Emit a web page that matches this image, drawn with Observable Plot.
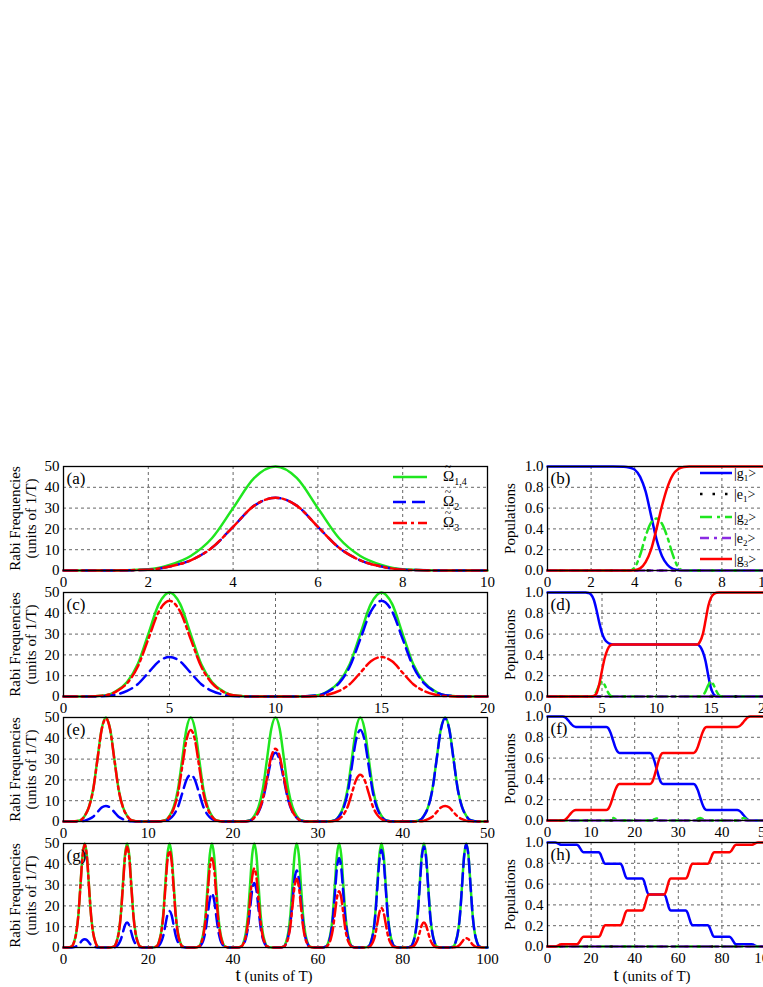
<!DOCTYPE html>
<html><head><meta charset="utf-8">
<script src="https://cdn.jsdelivr.net/npm/d3@7"></script>
<script src="https://cdn.jsdelivr.net/npm/@observablehq/plot@0.6"></script>
<style>
html,body{margin:0;padding:0;background:#fff;overflow:hidden;}
#fig{position:relative;width:763px;height:987px;overflow:hidden;background:#fff;}
</style></head><body><div id="fig"></div>
<script>
// ---------------- DATA ----------------
// Panel (a): Rabi frequencies, t in units of T
const tA = [0,1,2,2.5,3,3.5,4,4.5,5,5.5,6,6.5,7,7.5,8,9,10];
const om14A = [0,0,0.6,2.7,7,15.5,30,44.5,50,44.5,30,15.5,7,2.7,0.6,0,0];
const om2A  = [0,0,0.4,1.9,4.9,10.9,21,31.2,35,31.2,21,10.9,4.9,1.9,0.4,0,0];
const om3A  = [0,0,0.4,1.9,4.9,10.9,21,31.2,35,31.2,21,10.9,4.9,1.9,0.4,0,0];

// Panel (c)
const tC = [0,
 1,2,2.5,3,3.5,4,4.5,5,5.5,6,6.5,7,7.5,8,9,
 11,12,12.5,13,13.5,14,14.5,15,15.5,16,16.5,17,17.5,18,19,
 20];
const om14C = [0,
 0,0.6,2.7,7,15.5,30,44.5,50,44.5,30,15.5,7,2.7,0.6,0,
 0,0.6,2.7,7,15.5,30,44.5,50,44.5,30,15.5,7,2.7,0.6,0,
 0];
const om2C = [0,
 0,0.2,1,2.7,5.9,11.4,16.9,19,16.9,11.4,5.9,2.7,1,0.2,0,
 0,0.6,2.5,6.4,14.3,27.6,40.9,46,40.9,27.6,14.3,6.4,2.5,0.6,0,
 0];
const om3C = [0,
 0,0.6,2.5,6.4,14.3,27.6,40.9,46,40.9,27.6,14.3,6.4,2.5,0.6,0,
 0,0.2,1,2.7,5.9,11.4,16.9,19,16.9,11.4,5.9,2.7,1,0.2,0,
 0];

// Panel (e)
const tE = [0,
 1,2,2.5,3,3.5,4,4.5,5,5.5,6,6.5,7,7.5,8,9,
 11,12,12.5,13,13.5,14,14.5,15,15.5,16,16.5,17,17.5,18,19,
 21,22,22.5,23,23.5,24,24.5,25,25.5,26,26.5,27,27.5,28,29,
 31,32,32.5,33,33.5,34,34.5,35,35.5,36,36.5,37,37.5,38,39,
 41,42,42.5,43,43.5,44,44.5,45,45.5,46,46.5,47,47.5,48,49,
 50];
const om14E = [0,
 0,0.6,2.7,7,15.5,30,44.5,50,44.5,30,15.5,7,2.7,0.6,0,
 0,0.6,2.7,7,15.5,30,44.5,50,44.5,30,15.5,7,2.7,0.6,0,
 0,0.6,2.7,7,15.5,30,44.5,50,44.5,30,15.5,7,2.7,0.6,0,
 0,0.6,2.7,7,15.5,30,44.5,50,44.5,30,15.5,7,2.7,0.6,0,
 0,0.6,2.7,7,15.5,30,44.5,50,44.5,30,15.5,7,2.7,0.6,0,
 0];
const om2E = [0,
 0,0.1,0.4,1.1,2.3,4.5,6.7,7.5,6.7,4.5,2.3,1.1,0.4,0.1,0,
 0,0.3,1.2,3.2,7,13.5,20,22.5,20,13.5,7,3.2,1.2,0.3,0,
 0,0.4,1.8,4.6,10.2,19.8,29.4,33,29.4,19.8,10.2,4.6,1.8,0.4,0,
 0,0.5,2.4,6.2,13.6,26.4,39.2,44,39.2,26.4,13.6,6.2,2.4,0.5,0,
 0,0.6,2.7,6.9,15.3,29.7,44.1,49.5,44.1,29.7,15.3,6.9,2.7,0.6,0,
 0];
const om3E = [0,
 0,0.6,2.7,6.9,15.3,29.7,44.1,49.5,44.1,29.7,15.3,6.9,2.7,0.6,0,
 0,0.5,2.4,6.2,13.6,26.4,39.2,44,39.2,26.4,13.6,6.2,2.4,0.5,0,
 0,0.4,1.9,4.9,10.9,21,31.2,35,31.2,21,10.9,4.9,1.9,0.4,0,
 0,0.3,1.2,3.2,7,13.5,20,22.5,20,13.5,7,3.2,1.2,0.3,0,
 0,0.1,0.4,1.1,2.3,4.5,6.7,7.5,6.7,4.5,2.3,1.1,0.4,0.1,0,
 0];

// Panel (g)
const tG = [0,
 1,2,2.5,3,3.5,4,4.5,5,5.5,6,6.5,7,7.5,8,9,
 11,12,12.5,13,13.5,14,14.5,15,15.5,16,16.5,17,17.5,18,19,
 21,22,22.5,23,23.5,24,24.5,25,25.5,26,26.5,27,27.5,28,29,
 31,32,32.5,33,33.5,34,34.5,35,35.5,36,36.5,37,37.5,38,39,
 41,42,42.5,43,43.5,44,44.5,45,45.5,46,46.5,47,47.5,48,49,
 51,52,52.5,53,53.5,54,54.5,55,55.5,56,56.5,57,57.5,58,59,
 61,62,62.5,63,63.5,64,64.5,65,65.5,66,66.5,67,67.5,68,69,
 71,72,72.5,73,73.5,74,74.5,75,75.5,76,76.5,77,77.5,78,79,
 81,82,82.5,83,83.5,84,84.5,85,85.5,86,86.5,87,87.5,88,89,
 91,92,92.5,93,93.5,94,94.5,95,95.5,96,96.5,97,97.5,98,99,
 100];
const om14G = [0,
 0,0.6,2.7,7,15.5,30,44.5,50,44.5,30,15.5,7,2.7,0.6,0,
 0,0.6,2.7,7,15.5,30,44.5,50,44.5,30,15.5,7,2.7,0.6,0,
 0,0.6,2.7,7,15.5,30,44.5,50,44.5,30,15.5,7,2.7,0.6,0,
 0,0.6,2.7,7,15.5,30,44.5,50,44.5,30,15.5,7,2.7,0.6,0,
 0,0.6,2.7,7,15.5,30,44.5,50,44.5,30,15.5,7,2.7,0.6,0,
 0,0.6,2.7,7,15.5,30,44.5,50,44.5,30,15.5,7,2.7,0.6,0,
 0,0.6,2.7,7,15.5,30,44.5,50,44.5,30,15.5,7,2.7,0.6,0,
 0,0.6,2.7,7,15.5,30,44.5,50,44.5,30,15.5,7,2.7,0.6,0,
 0,0.6,2.7,7,15.5,30,44.5,50,44.5,30,15.5,7,2.7,0.6,0,
 0,0.6,2.7,7,15.5,30,44.5,50,44.5,30,15.5,7,2.7,0.6,0,
 0];
const om2G = [0,
 0,0,0.2,0.6,1.2,2.4,3.6,4,3.6,2.4,1.2,0.6,0.2,0,0,
 0,0.1,0.6,1.7,3.7,7.2,10.7,12,10.7,7.2,3.7,1.7,0.6,0.1,0,
 0,0.2,0.9,2.5,5.4,10.5,15.6,17.5,15.6,10.5,5.4,2.5,0.9,0.2,0,
 0,0.3,1.4,3.6,8.1,15.6,23.1,26,23.1,15.6,8.1,3.6,1.4,0.3,0,
 0,0.4,1.7,4.3,9.6,18.6,27.6,31,27.6,18.6,9.6,4.3,1.7,0.4,0,
 0,0.4,2,5.2,11.5,22.2,32.9,37,32.9,22.2,11.5,5.2,2,0.4,0,
 0,0.5,2.3,6,13.3,25.8,38.3,43,38.3,25.8,13.3,6,2.3,0.5,0,
 0,0.6,2.5,6.6,14.6,28.2,41.8,47,41.8,28.2,14.6,6.6,2.5,0.6,0,
 0,0.6,2.6,6.8,15,29.1,43.2,48.5,43.2,29.1,15,6.8,2.6,0.6,0,
 0,0.6,2.7,6.9,15.3,29.7,44.1,49.5,44.1,29.7,15.3,6.9,2.7,0.6,0,
 0];
const om3G = [0,
 0,0.6,2.7,6.9,15.3,29.7,44.1,49.5,44.1,29.7,15.3,6.9,2.7,0.6,0,
 0,0.6,2.6,6.8,15,29.1,43.2,48.5,43.2,29.1,15,6.8,2.6,0.6,0,
 0,0.6,2.5,6.5,14.4,27.9,41.4,46.5,41.4,27.9,14.4,6.5,2.5,0.6,0,
 0,0.5,2.3,6,13.3,25.8,38.3,43,38.3,25.8,13.3,6,2.3,0.5,0,
 0,0.5,2.1,5.3,11.8,22.8,33.8,38,33.8,22.8,11.8,5.3,2.1,0.5,0,
 0,0.4,1.8,4.6,10.2,19.8,29.4,33,29.4,19.8,10.2,4.6,1.8,0.4,0,
 0,0.3,1.5,3.8,8.4,16.2,24,27,24,16.2,8.4,3.8,1.5,0.3,0,
 0,0.2,1,2.7,5.9,11.4,16.9,19,16.9,11.4,5.9,2.7,1,0.2,0,
 0,0.1,0.6,1.7,3.7,7.2,10.7,12,10.7,7.2,3.7,1.7,0.6,0.1,0,
 0,0.1,0.2,0.6,1.4,2.7,4,4.5,4,2.7,1.4,0.6,0.2,0.1,0,
 0];

// Panel (b): populations
const tB  = [0,3,3.5,3.75,4,4.25,4.5,4.75,5,5.25,5.5,5.75,6,6.25,6.5,7,10];
const g1B = [1,1,0.998,0.99,0.97,0.9,0.76,0.53,0.3,0.14,0.055,0.015,0.004,0,0,0,0];
const g2B = [0,0,0,0,0.03,0.15,0.33,0.46,0.5,0.45,0.32,0.15,0.03,0,0,0,0];
const g3B = [0,0,0,0,0.003,0.02,0.08,0.2,0.4,0.62,0.8,0.92,0.975,0.995,1,1,1];
const tFlatB = [0,10];
const e1B = [0,0];
const e2B = [0,0];

// Panel (d)
const tD  = [0,3.5,3.75,4,4.25,4.5,4.75,5,5.25,5.5,5.75,6,6.5,13.5,13.75,14,14.25,14.5,14.75,15,15.25,15.5,15.75,16,20];
const g1D = [1,1,0.995,0.98,0.93,0.83,0.71,0.61,0.55,0.52,0.505,0.5,0.5,0.5,0.5,0.48,0.43,0.34,0.2,0.08,0.02,0.003,0,0,0];
const g2D = [0,0,0,0,0.01,0.05,0.11,0.145,0.11,0.05,0.01,0,0,0,0,0,0.01,0.05,0.11,0.145,0.11,0.05,0.01,0,0];
const g3D = [0,0,0,0,0.005,0.03,0.12,0.25,0.37,0.45,0.49,0.5,0.5,0.5,0.5,0.53,0.6,0.73,0.87,0.95,0.985,0.997,1,1,1];
const tFlatD = [0,20];
const e1D = [0,0];
const e2D = [0,0];

// Panel (f)
const tF  = [0,3.5,4,4.5,5,5.5,6,6.5,13.5,14,14.5,15,15.5,16,16.5,23.5,24,24.5,25,25.5,26,26.5,33.5,34,34.5,35,35.5,36,36.5,43.5,44,44.5,45,45.5,46,46.5,50];
const g1F = [1,1,0.994,0.975,0.95,0.925,0.906,0.9,0.9,0.885,0.84,0.775,0.71,0.665,0.65,0.65,0.632,0.575,0.5,0.425,0.368,0.35,0.35,0.335,0.29,0.225,0.16,0.115,0.1,0.1,0.094,0.075,0.05,0.025,0.006,0,0];
const g2F = [0,0,0,0,0.01,0,0,0,0,0,0.015,0.025,0.015,0,0,0,0,0.012,0.02,0.012,0,0,0,0,0.015,0.025,0.015,0,0,0,0,0.015,0.025,0.015,0,0,0];
const g3F = [0,0,0.006,0.025,0.05,0.075,0.094,0.1,0.1,0.115,0.16,0.225,0.29,0.335,0.35,0.35,0.368,0.425,0.5,0.575,0.632,0.65,0.65,0.665,0.71,0.775,0.84,0.885,0.9,0.9,0.906,0.925,0.95,0.975,0.994,1,1];
const tFlatF = [0,50];
const e1F = [0,0];
const e2F = [0,0];

// Panel (h)
const tH = [0,
 3.5,4.25,5,5.75,6.5,
 13.5,14.25,15,15.75,16.5,
 23.5,24.25,25,25.75,26.5,
 33.5,34.25,35,35.75,36.5,
 43.5,44.25,45,45.75,46.5,
 53.5,54.25,55,55.75,56.5,
 63.5,64.25,65,65.75,66.5,
 73.5,74.25,75,75.75,76.5,
 83.5,84.25,85,85.75,86.5,
 93.5,94.25,95,95.75,96.5,
 100];
const g1H = [1,
 1,0.997,0.989,0.981,0.978,
 0.978,0.967,0.943,0.918,0.907,
 0.907,0.89,0.851,0.812,0.795,
 0.795,0.774,0.725,0.676,0.655,
 0.655,0.632,0.578,0.523,0.5,
 0.5,0.477,0.423,0.368,0.345,
 0.345,0.324,0.275,0.226,0.205,
 0.205,0.188,0.149,0.11,0.093,
 0.093,0.082,0.058,0.033,0.022,
 0.022,0.019,0.011,0.003,0,
 0];
const g3H = [0,
 0,0.003,0.011,0.019,0.022,
 0.022,0.033,0.057,0.082,0.093,
 0.093,0.11,0.149,0.188,0.205,
 0.205,0.226,0.275,0.324,0.345,
 0.345,0.368,0.422,0.477,0.5,
 0.5,0.523,0.577,0.632,0.655,
 0.655,0.676,0.725,0.774,0.795,
 0.795,0.812,0.851,0.89,0.907,
 0.907,0.918,0.942,0.967,0.978,
 0.978,0.981,0.989,0.997,1,
 1];
const tFlatH = [0,100];
const g2H = [0,0];
const e1H = [0,0];
const e2H = [0,0];

// Tick values
const ticksX1 = [0,2,4,6,8,10];
const ticksX2 = [0,5,10,15,20];
const ticksX3 = [0,10,20,30,40,50];
const ticksX4 = [0,20,40,60,80,100];
const ticksRabi = [0,10,20,30,40,50];
const ticksPop = [0,0.2,0.4,0.6,0.8,1.0];

// Labels
const rabiLabel = "Rabi Frequencies\n(units of 1/T)";
const popLabel = "Populations";
const tagsLeft = ["(a)","(c)","(e)","(g)"];
const tagsRight = ["(b)","(d)","(f)","(h)"];
const legendRabi = [{sub: "1,4"}, {sub: "2"}, {sub: "3"}];
const legendPop = [{st: "g", sub: "1"}, {st: "e", sub: "1"}, {st: "g", sub: "2"}, {st: "e", sub: "2"}, {st: "g", sub: "3"}];

// ---------------- STYLE / LAYOUT ----------------
const FONT = '"Liberation Serif","Times New Roman",Times,serif';
const COL = {green:"#1fe61f", blue:"#0000ff", red:"#ff0000", purple:"#8a2be2", black:"#000000"};
const DASH = {blue:"13,6", red:"14,4,3,4", green:"12,5,3,5", purple:"9,5,3,5", black:"2.5,10"};
const LEFT  = {x0:0,   ml:63, fw:424, mr:15};
const RIGHT = {x0:500, ml:47, fw:218, mr:10};
const FRAME_H = 104;
const rowTopsL = [466, 592, 717, 843];
const rowTopsR = [466, 592, 716, 842];

const fig = document.getElementById("fig");
const rows = (t, v) => t.map((x, i) => ({t: x, v: v[i]}));

function makePanel(o) {
  const g = o.side === "left" ? LEFT : RIGHT;
  const mt = 10, mb = o.bottom ? 45 : 25;
  const gridStyle = {stroke:"#333", strokeOpacity:1, strokeWidth:0.75, strokeDasharray:"3,3"};
  const marks = [
    Plot.gridX({ticks: o.xTicks.slice(1, -1), ...gridStyle}),
    Plot.gridY({ticks: o.yTicks.slice(1, -1), ...gridStyle}),
    Plot.axisX({ticks: o.xTicks, tickSize: 0, tickPadding: 6, label: null, fontSize: 15}),
    Plot.axisY(Object.assign({ticks: o.yTicks, tickSize: 0, tickPadding: 4, label: null, fontSize: 15},
      o.yFormat ? {tickFormat: o.yFormat} : {})),
    ...o.series.map(s => Plot.line(rows(s.t, s.v), {
      x: "t", y: "v", stroke: s.color, strokeWidth: 2.5,
      strokeDasharray: s.dash, curve: "monotone-x"
    })),
    Plot.text([o.tag], {frameAnchor: "top-left", dx: 3, dy: 12, fontSize: 17, textAnchor: "start", lineAnchor: "middle"}),
    Plot.text([o.ylabel], {frameAnchor: "left", rotate: -90, dx: o.ylabelDx, fontSize: 15, lineHeight: 1.1,
      textAnchor: "middle", lineAnchor: "middle"}),
    Plot.frame({stroke: "#000", strokeWidth: 1.3})
  ];
  const svg = Plot.plot({
    width: g.ml + g.fw + g.mr, height: mt + FRAME_H + mb,
    marginLeft: g.ml, marginRight: g.mr, marginTop: mt, marginBottom: mb,
    x: {domain: o.xDomain}, y: {domain: o.yDomain},
    style: {fontFamily: FONT, fontSize: "15px", background: "transparent", color: "#000", overflow: "visible"},
    marks
  });
  svg.style.position = "absolute";
  svg.style.left = g.x0 + "px";
  svg.style.top = (o.frameTop - mt) + "px";
  svg.style.maxWidth = "none";
  fig.appendChild(svg);
}

const rabiPanels = [
  {t: tA, s14: om14A, s2: om2A, s3: om3A, xDomain: [0,10], xTicks: ticksX1},
  {t: tC, s14: om14C, s2: om2C, s3: om3C, xDomain: [0,20], xTicks: ticksX2},
  {t: tE, s14: om14E, s2: om2E, s3: om3E, xDomain: [0,50], xTicks: ticksX3},
  {t: tG, s14: om14G, s2: om2G, s3: om3G, xDomain: [0,100], xTicks: ticksX4}
];
rabiPanels.forEach((p, i) => makePanel({
  side: "left", frameTop: rowTopsL[i], bottom: i === 3,
  xDomain: p.xDomain, xTicks: p.xTicks, yDomain: [0,50], yTicks: ticksRabi,
  tag: tagsLeft[i], ylabel: rabiLabel, ylabelDx: -41,
  series: [
    {t: p.t, v: p.s14, color: COL.green},
    {t: p.t, v: p.s2, color: COL.blue, dash: DASH.blue},
    {t: p.t, v: p.s3, color: COL.red, dash: DASH.red}
  ]
}));

const popPanels = [
  {t: tB, g1: g1B, g2: g2B, g3: g3B, tf: tFlatB, e1: e1B, e2: e2B, tg2: tB, xDomain: [0,10], xTicks: ticksX1},
  {t: tD, g1: g1D, g2: g2D, g3: g3D, tf: tFlatD, e1: e1D, e2: e2D, tg2: tD, xDomain: [0,20], xTicks: ticksX2},
  {t: tF, g1: g1F, g2: g2F, g3: g3F, tf: tFlatF, e1: e1F, e2: e2F, tg2: tF, xDomain: [0,50], xTicks: ticksX3},
  {t: tH, g1: g1H, g2: g2H, g3: g3H, tf: tFlatH, e1: e1H, e2: e2H, tg2: tFlatH, xDomain: [0,100], xTicks: ticksX4}
];
popPanels.forEach((p, i) => makePanel({
  side: "right", frameTop: rowTopsR[i], bottom: i === 3,
  xDomain: p.xDomain, xTicks: p.xTicks, yDomain: [0,1], yTicks: ticksPop, yFormat: d3.format(".1f"),
  tag: tagsRight[i], ylabel: popLabel, ylabelDx: -38,
  series: [
    {t: p.t, v: p.g1, color: COL.blue},
    {t: p.tf, v: p.e1, color: COL.black, dash: DASH.black},
    {t: p.tg2, v: p.g2, color: COL.green, dash: DASH.green},
    {t: p.tf, v: p.e2, color: COL.purple, dash: DASH.purple},
    {t: p.t, v: p.g3, color: COL.red}
  ]
}));

// ---------------- Overlay: legends and x-axis titles ----------------
const ov = d3.select(fig).append("svg")
  .attr("width", 763).attr("height", 987)
  .style("position", "absolute").style("left", "0px").style("top", "0px")
  .style("font-family", FONT).style("pointer-events", "none");

const legAcol = [COL.green, COL.blue, COL.red];
const legAdash = [null, DASH.blue, DASH.red];
const legAy = [477, 502, 523];
legendRabi.forEach((d, i) => {
  const y = legAy[i];
  ov.append("line").attr("x1", 393).attr("x2", 427).attr("y1", y).attr("y2", y)
    .attr("stroke", legAcol[i]).attr("stroke-width", 2.5).attr("stroke-dasharray", legAdash[i]);
  const tx = ov.append("text").attr("x", 443).attr("y", y + 4).attr("font-size", 15).attr("fill", "#000");
  tx.append("tspan").text("Ω");
  tx.append("tspan").attr("dx", -9.5).attr("dy", -10).attr("font-size", 12).text("~");
  tx.append("tspan").attr("dx", 3).attr("dy", 14).attr("font-size", 10).text(d.sub);
});

const legBcol = [COL.blue, COL.black, COL.green, COL.purple, COL.red];
const legBdash = [null, DASH.black, DASH.green, DASH.purple, null];
const legBy = [473, 494, 517, 538, 559];
legendPop.forEach((d, i) => {
  const y = legBy[i];
  ov.append("line").attr("x1", 700).attr("x2", 732).attr("y1", y).attr("y2", y)
    .attr("stroke", legBcol[i]).attr("stroke-width", 2.5).attr("stroke-dasharray", legBdash[i]);
  const tx = ov.append("text").attr("x", 734).attr("y", y + 5).attr("font-size", 14).attr("fill", "#000");
  tx.append("tspan").text("|" + d.st);
  tx.append("tspan").attr("dy", 3).attr("font-size", 9).text(d.sub);
  tx.append("tspan").attr("dy", -3).text(">");
});

[{cx: 274}, {cx: 652}].forEach(d => {
  const tx = ov.append("text").attr("x", d.cx).attr("y", 981).attr("text-anchor", "middle").attr("fill", "#000");
  tx.append("tspan").attr("font-size", 19).text("t");
  tx.append("tspan").attr("font-size", 15).text(" (units of T)");
});
</script>
</body></html>
